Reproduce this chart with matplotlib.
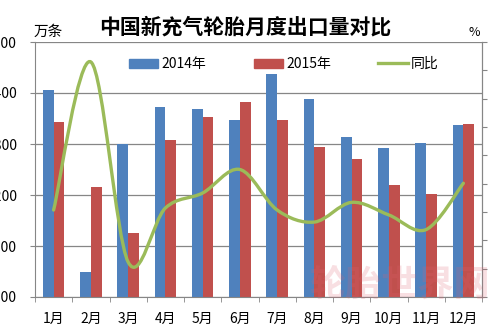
import matplotlib
matplotlib.use('Agg')
import matplotlib.pyplot as plt
from matplotlib.path import Path
from matplotlib.patches import PathPatch, Patch
from matplotlib.lines import Line2D
import numpy as np

plt.rcParams['font.family'] = ['Noto Sans CJK SC', 'DejaVu Sans']

months = ['1月', '2月', '3月', '4月', '5月', '6月', '7月', '8月', '9月', '10月', '11月', '12月']
exports_2014 = [3439, 1294, 2800, 3239, 3212, 3082, 3627, 3333, 2882, 2749, 2812, 3024]
exports_2015 = [3055, 2298, 1749, 2843, 3121, 3294, 3082, 2761, 2627, 2321, 2215, 3039]
yoy = [-18.6, 85.9, -55.3, -17.2, -6.6, 10.0, -18.6, -27.1, -13.2, -22.1, -32.4, 0.3]
left_ticks = [1000, 1600, 2200, 2800, 3400, 4000]
right_ticks = [-80, -60, -40, -20, 0, 20, 40, 60, 80, 100]

BLUE = '#4F81BD'
RED = '#C0504D'
GREEN = '#9BBB59'
GRAY = '#868686'

W, H = 492, 333
fig = plt.figure(figsize=(W / 100, H / 100), dpi=100)
ax = fig.add_axes([35 / W, 36 / H, 447 / W, 255 / H])

x = np.arange(len(months))
bw = 0.287
ax.bar(x - bw / 2, exports_2014, width=bw, color=BLUE, zorder=2)
ax.bar(x + bw / 2, exports_2015, width=bw, color=RED, zorder=2)

ax.set_xlim(-0.5, len(months) - 0.5)
ax.set_ylim(left_ticks[0], left_ticks[-1])
ax.set_yticks(left_ticks)
ax.set_yticklabels([str(v) for v in left_ticks])
ax.yaxis.grid(True, color=GRAY, lw=0.9)
ax.set_axisbelow(True)

ax.set_xticks(x)
ax.set_xticklabels(months)
ax.set_xticks(np.arange(-0.5, len(months), 1.0), minor=True)
ax.tick_params(axis='x', which='major', length=0, pad=11, labelsize=10)
ax.tick_params(axis='x', which='minor', length=3.5, color=GRAY, direction='out')
ax.tick_params(axis='y', length=3.5, color=GRAY, direction='out', pad=9.5, labelsize=10)

for s in ['left', 'bottom', 'right']:
    ax.spines[s].set_color(GRAY)
ax.spines['top'].set_visible(False)

# secondary axis for YoY line
ax2 = ax.twinx()
ax2.set_ylim(right_ticks[0], right_ticks[-1])
ax2.set_yticks(right_ticks)
ax2.tick_params(axis='y', length=3.5, color=GRAY, direction='out', pad=12, labelsize=10)
for s in ['left', 'bottom', 'top']:
    ax2.spines[s].set_visible(False)
ax2.spines['right'].set_color(GRAY)

# smoothed line (Catmull-Rom -> cubic Bezier through the data points)
pts = np.column_stack([x, np.array(yoy, dtype=float)])
n = len(pts)
verts = [pts[0]]
codes = [Path.MOVETO]
for i in range(n - 1):
    p0 = pts[i - 1] if i > 0 else pts[i]
    p1 = pts[i]
    p2 = pts[i + 1]
    p3 = pts[i + 2] if i + 2 < n else pts[i + 1]
    c1 = p1 + (p2 - p0) / 6.0
    c2 = p2 - (p3 - p1) / 6.0
    verts += [c1, c2, p2]
    codes += [Path.CURVE4] * 3
ax2.add_patch(PathPatch(Path(verts, codes), facecolor='none', edgecolor=GREEN,
                        lw=2.4, capstyle='round', zorder=3))

# texts
fig.text(245 / W, 1 - 27 / H, '中国新充气轮胎月度出口量对比', fontsize=15,
         fontweight='bold', ha='center', va='center')
fig.text(48 / W, 1 - 32 / H, '万条', fontsize=10.5, ha='center', va='center')
fig.text(474 / W, 1 - 32 / H, '%', fontsize=9, ha='center', va='center')

# watermark
fig.text(400 / W, 1 - 285 / H, '轮胎世界网', fontsize=26, fontweight='bold',
         color='#E06070', alpha=0.2, ha='center', va='center', zorder=5)

handles = [Patch(color=BLUE), Patch(color=RED), Line2D([0], [0], color=GREEN, lw=2.4)]
labels = ['2014年', '2015年', '同比']
fig.legend(handles, labels, loc='center', bbox_to_anchor=(284 / W, 1 - 64 / H),
           ncol=3, frameon=False, fontsize=10, handlelength=2.1, handleheight=0.6,
           handletextpad=0.25, columnspacing=3.4, borderpad=0)

fig.savefig('out.png', dpi=100)
